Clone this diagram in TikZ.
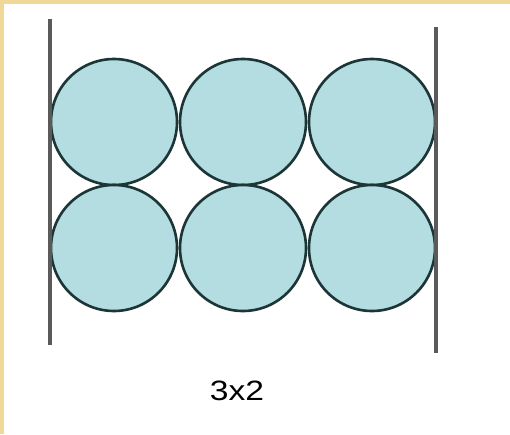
\documentclass[tikz,border=0pt]{standalone}
\usepackage{fontspec}
\setmainfont{Liberation Sans}
\usetikzlibrary{positioning}
\definecolor{frame}{HTML}{F0D898}
\definecolor{ballfill}{HTML}{B3DDE1}
\definecolor{balledge}{HTML}{1C3536}
\definecolor{wallgray}{HTML}{5A5A5A}

\begin{document}
\begin{tikzpicture}[
  x=1pt, y=-1pt,
  node distance=3pt,
  ball/.style={circle,draw=balledge,fill=ballfill,line width=2.6pt,minimum size=126pt,inner sep=0pt,outer sep=0pt},
  wall/.style={draw=wallgray,line width=3.5pt}
]
\useasboundingbox (0,0) rectangle (510,434);
\fill[frame] (0,0) rectangle (510,434);
\fill[white] (4,4) rectangle (510,434);

\node[ball] (b11) at (114,122) {};
\node[ball,right=of b11] (b12) {};
\node[ball,right=of b12] (b13) {};
\node[ball,below=0pt of b11] (b21) {};
\node[ball,below=0pt of b12] (b22) {};
\node[ball,below=0pt of b13] (b23) {};

\coordinate (lwtop) at (50,19);
\coordinate (lwbot) at (50,345);
\coordinate (rwtop) at (436,27);
\coordinate (rwbot) at (436,353);
\draw[wall] (lwtop) -- (lwbot);
\draw[wall] (rwtop) -- (rwbot);

\node[font=\fontsize{28}{30}\selectfont,xscale=1.2] (label) at (237,391) {3x2};
\end{tikzpicture}
\end{document}
